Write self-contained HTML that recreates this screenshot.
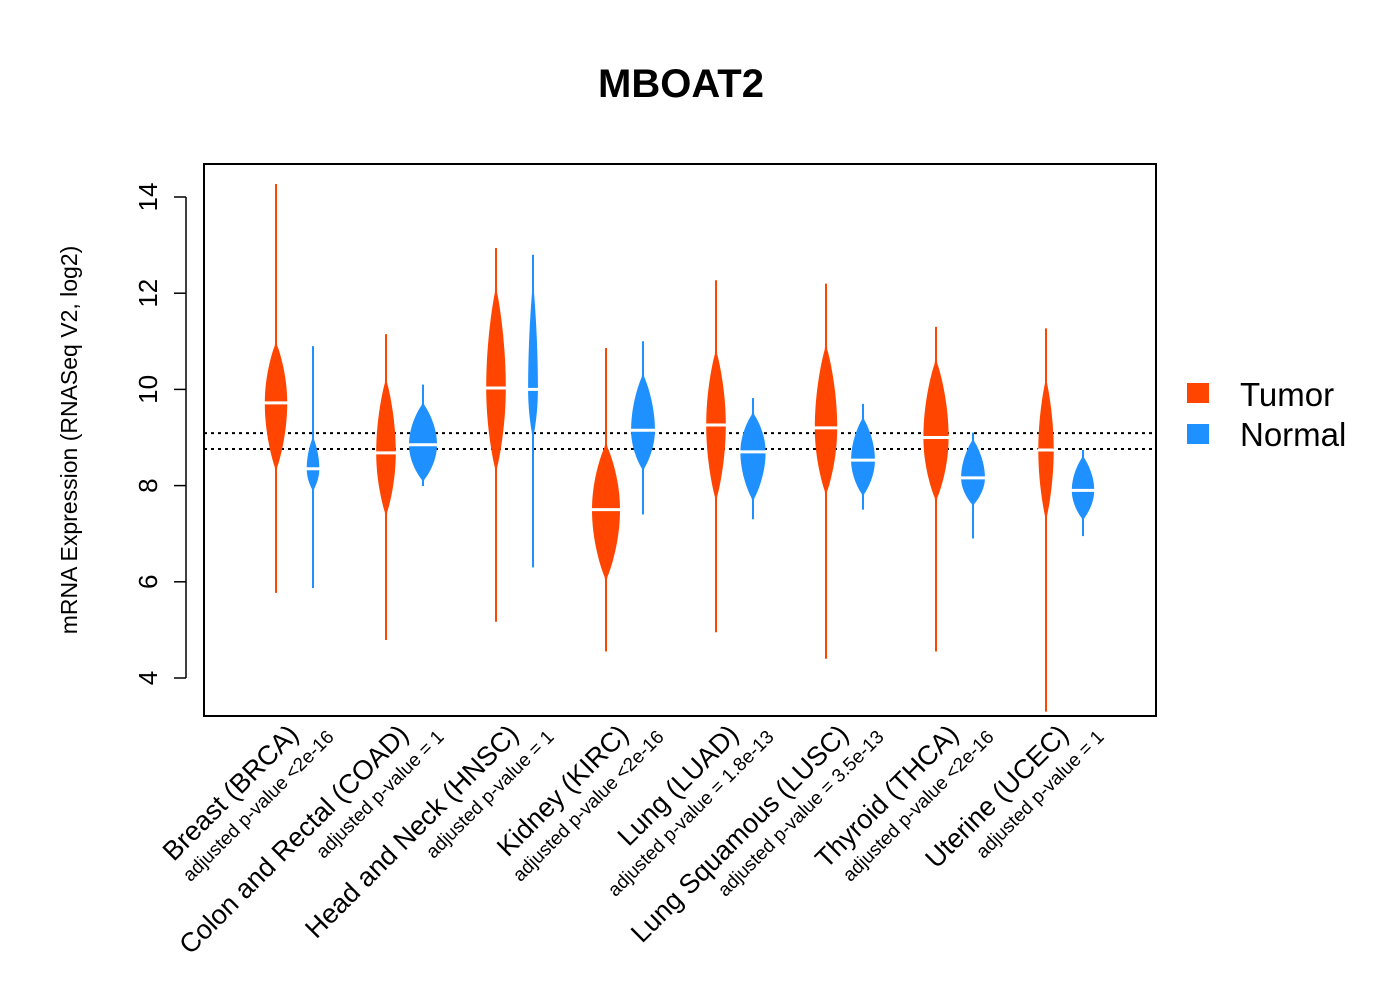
<!DOCTYPE html>
<html><head><meta charset="utf-8"><style>
body{margin:0;background:#fff;}
svg{display:block;font-family:"Liberation Sans",Arial,sans-serif;}
</style></head><body>
<svg id="chart" width="1400" height="1000">
<rect x="0" y="0" width="1400" height="1000" fill="#fff"/>
<text x="681" y="97" font-size="40" font-weight="bold" text-anchor="middle">MBOAT2</text>
<rect x="204" y="164" width="952" height="552" fill="none" stroke="#000" stroke-width="2"/>
<g id="yaxis"></g>
<text transform="translate(77,440) rotate(-90)" font-size="23" text-anchor="middle">mRNA Expression (RNASeq V2, log2)</text>
<g id="refs"></g>
<g id="violins"></g>
<g id="xlabels"></g>
<g>
<rect x="1187" y="383" width="22" height="20" fill="#FF4500"/>
<text x="1240" y="406" font-size="33">Tumor</text>
<rect x="1187" y="424" width="22" height="20" fill="#1E90FF"/>
<text x="1240" y="446" font-size="33">Normal</text>
</g>
</svg>
<script>
const categories=["Breast (BRCA)","Colon and Rectal (COAD)","Head and Neck (HNSC)","Kidney (KIRC)","Lung (LUAD)","Lung Squamous (LUSC)","Thyroid (THCA)","Uterine (UCEC)"];
const pvalues=["adjusted p-value <2e-16","adjusted p-value = 1","adjusted p-value = 1","adjusted p-value <2e-16","adjusted p-value = 1.8e-13","adjusted p-value = 3.5e-13","adjusted p-value <2e-16","adjusted p-value = 1"];
const tumorMin=[5.77,4.79,5.17,4.55,4.95,4.4,4.55,3.3];
const tumorMax=[14.27,11.15,12.94,10.86,12.27,12.2,11.3,11.27];
const tumorLow=[8.33,7.39,8.3,6.05,7.7,7.83,7.7,7.3];
const tumorHigh=[10.96,10.2,12.1,8.85,10.8,10.9,10.6,10.2];
const tumorMed=[9.72,8.68,10.03,7.5,9.26,9.2,9.0,8.74];
const tumorDens=[0.8,0.7,0.7,1.0,0.7,0.8,0.9,0.55];
const normalMin=[5.87,7.99,6.3,7.4,7.3,7.5,6.9,6.95];
const normalMax=[10.9,10.1,12.8,11.0,9.82,9.7,9.1,8.74];
const normalLow=[7.9,8.1,9.0,8.33,7.7,7.8,7.6,7.3];
const normalHigh=[9.0,9.7,12.2,10.3,9.5,9.4,8.95,8.6];
const normalMed=[8.35,8.85,10.0,9.15,8.7,8.53,8.16,7.9];
const normalDens=[0.45,1.0,0.35,0.85,0.9,0.85,0.85,0.8];
const refValues=[9.09,8.76];
const yTicks=[4,6,8,10,12,14];
const NS="http://www.w3.org/2000/svg";
const y=v=>678-(v-4)*48.1;
const xT=i=>276+i*110, xN=i=>313+i*110;
function mk(tag,attrs,parent){const e=document.createElementNS(NS,tag);for(const k in attrs)e.setAttribute(k,attrs[k]);parent.appendChild(e);return e;}
const ya=document.getElementById('yaxis');
mk('line',{x1:186,x2:186,y1:y(14),y2:y(4),stroke:'#000','stroke-width':1.5},ya);
yTicks.forEach(t=>{
 const l=mk('line',{x1:174,x2:186,y1:y(t),y2:y(t),stroke:'#000','stroke-width':1.5},ya);
 
 
 const tx=mk('text',{transform:`translate(157,${y(t)}) rotate(-90)`,'font-size':26,'text-anchor':'middle'},ya);
 tx.textContent=t;
 
 
});
const rf=document.getElementById('refs');
refValues.forEach(v=>{
 const l=mk('line',{x1:204,x2:1156,y1:y(v),y2:y(v),stroke:'#000','stroke-width':2,'stroke-dasharray':'3,4'},rf);
 
 
});
const vg=document.getElementById('violins');
function violin(cx,mn,mx,lo,hi,med,dens,col,name){
 const g=mk('g',{},vg);
 
 
 mk('line',{x1:cx,x2:cx,y1:y(mx),y2:y(mn),stroke:col,'stroke-width':2},g);
 const w=14*dens;
 const pts=[];const N=24;
 for(let k=0;k<=N;k++){const v=med+(hi-med)*k/N;const f=Math.cos(Math.PI/2*k/N);pts.push([cx+Math.max(1,w*Math.pow(f,0.8)),y(v)]);}
 const left=[];
 for(let k=0;k<=N;k++){const v=med-(med-lo)*k/N;const f=Math.cos(Math.PI/2*k/N);left.push([Math.max(1,w*Math.pow(f,0.8)),y(v)]);}
 let d='';
 pts.slice().reverse().forEach((p,i)=>{d+=(i?'L':'M')+p[0]+','+p[1];});
 left.forEach(p=>{d+='L'+(cx+p[0])+','+p[1];});
 left.slice().reverse().forEach(p=>{d+='L'+(cx-p[0])+','+p[1];});
 pts.forEach(p=>{d+='L'+(2*cx-p[0])+','+p[1];});
 d+='Z';
 mk('path',{d:d,fill:col},g);
 mk('line',{x1:cx-w-1,x2:cx+w+1,y1:y(med),y2:y(med),stroke:'#fff','stroke-width':3},g);
}
categories.forEach((c,i)=>{
 violin(xT(i),tumorMin[i],tumorMax[i],tumorLow[i],tumorHigh[i],tumorMed[i],tumorDens[i],'#FF4500','tumor-violin');
 violin(xN(i),normalMin[i],normalMax[i],normalLow[i],normalHigh[i],normalMed[i],normalDens[i],'#1E90FF','normal-violin');
});
const xl=document.getElementById('xlabels');
categories.forEach((c,i)=>{
 const t=mk('text',{transform:`translate(${xT(i)+24},${736}) rotate(-45)`,'font-size':27,'text-anchor':'end'},xl);
 t.textContent=c;
 
 
 const s=mk('text',{transform:`translate(${xN(i)+22},${738}) rotate(-45)`,'font-size':19,'text-anchor':'end'},xl);
 s.textContent=pvalues[i];
 
 
});
</script>
</body></html>
